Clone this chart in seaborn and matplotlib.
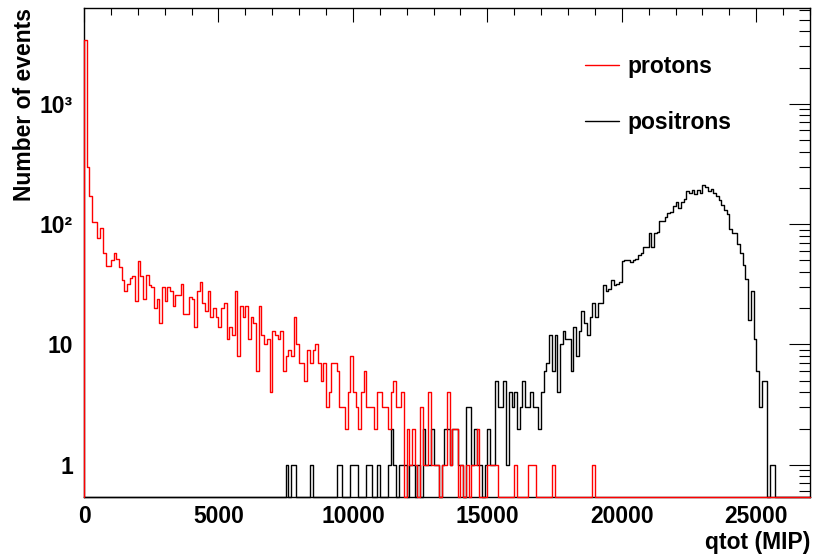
import numpy as np
import pandas as pd
import matplotlib
matplotlib.use("Agg")
import matplotlib.pyplot as plt
import seaborn as sns
from matplotlib.lines import Line2D
from matplotlib.ticker import FixedLocator, LogLocator, MultipleLocator, NullFormatter

# Histogram binning of the total charge (MIP units)
bin_width = 100
n_bins = 270

# Proton events per bin, starting at qtot = 0
proton_counts = [
    3400, 300, 170, 105, 105, 77, 92, 57, 45, 45,
    50, 57, 51, 44, 34, 28, 32, 36, 37, 23,
    49, 37, 24, 38, 31, 30, 20, 24, 15, 30,
    23, 30, 28, 21, 26, 26, 32, 18, 18, 25,
    24, 14, 28, 33, 22, 19, 28, 17, 20, 17,
    14, 20, 22, 11, 14, 12, 28, 8, 21, 17,
    21, 11, 17, 15, 6, 21, 12, 10, 11, 4,
    13, 12, 11, 13, 6, 8, 9, 8, 17, 10,
    7, 7, 5, 9, 7, 9, 10, 7, 5, 7,
    3, 4, 7, 7, 6, 3, 3, 2, 4, 8,
    4, 3, 2, 4, 6, 3, 3, 3, 2, 4,
    4, 3, 3, 2, 4, 5, 3, 3, 4, 0,
    2, 1, 2, 1, 0, 3, 1, 1, 4, 1,
    1, 1, 0, 1, 1, 4, 1, 2, 2, 0,
    1, 0, 1, 0, 1, 1, 2, 0, 0, 0,
    1, 1, 1, 1, 0, 0, 0, 0, 0, 0,
    1, 0, 0, 0, 0, 1, 1, 1, 0, 0,
    0, 0, 0, 0, 1, 0, 0, 0, 0, 0,
    0, 0, 0, 0, 0, 0, 0, 0, 0, 1,
]

# Positron events per bin, starting at bin 75 (qtot = 7500)
positron_first_bin = 75
positron_counts = [
    1, 0, 1, 1, 0, 0, 0, 0, 0, 1,
    0, 0, 0, 0, 0, 0, 0, 0, 0, 1,
    1, 0, 0, 0, 1, 1, 1, 0, 0, 0,
    1, 1, 0, 0, 1, 0, 0, 0, 1, 2,
    1, 0, 1, 1, 1, 0, 1, 1, 0, 1,
    0, 2, 1, 1, 2, 1, 1, 0, 1, 2,
    2, 1, 2, 2, 1, 1, 0, 3, 3, 1,
    2, 1, 1, 0, 1, 2, 1, 1, 5, 3,
    3, 5, 1, 4, 3, 4, 2, 3, 5, 3,
    3, 4, 3, 3, 2, 4, 6, 7, 12, 6,
    12, 4, 10, 13, 11, 11, 6, 14, 8, 13,
    19, 15, 12, 17, 22, 17, 22, 22, 31, 28,
    29, 34, 31, 32, 33, 49, 50, 50, 48, 50,
    51, 55, 57, 65, 65, 84, 65, 84, 86, 107,
    107, 114, 123, 127, 142, 152, 136, 152, 161, 190,
    181, 193, 179, 193, 181, 212, 203, 190, 195, 181,
    172, 158, 145, 132, 122, 91, 84, 85, 68, 57,
    46, 35, 16, 28, 11, 6, 3, 5, 5, 0,
    1, 1,
]

series_labels = ["protons", "positrons"]
series_colors = ["#ff0000", "#000000"]

x_range = (0, 27000)
y_range = (0.54, 6250)


def full_histogram(counts, first_bin):
    arr = np.zeros(n_bins)
    arr[first_bin:first_bin + len(counts)] = counts
    return arr


def outline_frame(counts):
    # Empty bins sit on the lower edge of the log axis
    vals = np.where(counts > 0, counts, y_range[0])
    edges = np.arange(n_bins + 1) * bin_width
    xs = np.concatenate([[0.0], edges])
    ys = np.concatenate([[y_range[0]], vals, [vals[-1]]])
    return pd.DataFrame({"qtot": xs, "events": ys})


sns.set_theme(style="white")
plt.rcParams["font.family"] = ["Liberation Sans", "DejaVu Sans"]
plt.rcParams["font.weight"] = "bold"
plt.rcParams["axes.labelweight"] = "bold"
for key in ["text.color", "axes.labelcolor", "xtick.color", "ytick.color",
            "xtick.labelcolor", "ytick.labelcolor"]:
    plt.rcParams[key] = "black"

fig = plt.figure(figsize=(8.13, 5.60), dpi=100)
ax = fig.add_axes([84 / 813, 63 / 560, 726 / 813, 489 / 560])

protons = full_histogram(proton_counts, 0)
positrons = full_histogram(positron_counts, positron_first_bin)

for counts, color, z in [(positrons, series_colors[1], 3), (protons, series_colors[0], 4)]:
    sns.lineplot(data=outline_frame(counts), x="qtot", y="events", ax=ax,
                 drawstyle="steps-post", color=color, linewidth=1.0,
                 estimator=None, sort=False, zorder=z, clip_on=False)

ax.set_yscale("log")
ax.set_xlim(*x_range)
ax.set_ylim(*y_range)

fs = 16.5
ax.xaxis.set_major_locator(MultipleLocator(5000))
ax.xaxis.set_minor_locator(MultipleLocator(1000))
ax.yaxis.set_major_locator(FixedLocator([1, 10, 100, 1000]))
ax.yaxis.set_minor_locator(LogLocator(base=10, subs=np.arange(2, 10)))
ax.yaxis.set_minor_formatter(NullFormatter())
ax.set_yticklabels(["1", "10", "10\u00b2", "10\u00b3"])
ax.set_xticks([0, 5000, 10000, 15000, 20000, 25000])
ax.set_xticklabels(["0", "5000", "10000", "15000", "20000", "25000"])

ax.tick_params(axis="both", which="both", direction="in", top=True, right=True,
               width=0.8, color="black", labelcolor="black", labelsize=fs)
ax.tick_params(axis="x", which="major", length=10, pad=6)
ax.tick_params(axis="x", which="minor", length=5)
ax.tick_params(axis="y", which="major", length=15, pad=8)
ax.tick_params(axis="y", which="minor", length=8)
for lbl in ax.get_xticklabels() + ax.get_yticklabels():
    lbl.set_fontweight("bold")
    lbl.set_color("black")

for sp in ax.spines.values():
    sp.set_color("black")
    sp.set_linewidth(1.0)

ax.set_xlabel("qtot (MIP)", loc="right", fontsize=fs, fontweight="bold",
              labelpad=2, color="black")
ax.set_ylabel("Number of events", loc="top", fontsize=fs, fontweight="bold",
              labelpad=2.5, color="black")

handles = [Line2D([], [], color=c, linewidth=1.0) for c in series_colors]
leg = ax.legend(handles, series_labels, loc="upper left", bbox_to_anchor=(0.690, 0.904),
                frameon=False, borderpad=0, borderaxespad=0, handlelength=1.5,
                handletextpad=0.35, labelspacing=1.45,
                prop={"size": fs, "weight": "bold"})
for t in leg.get_texts():
    t.set_color("black")

fig.savefig("out.png", dpi=100)
